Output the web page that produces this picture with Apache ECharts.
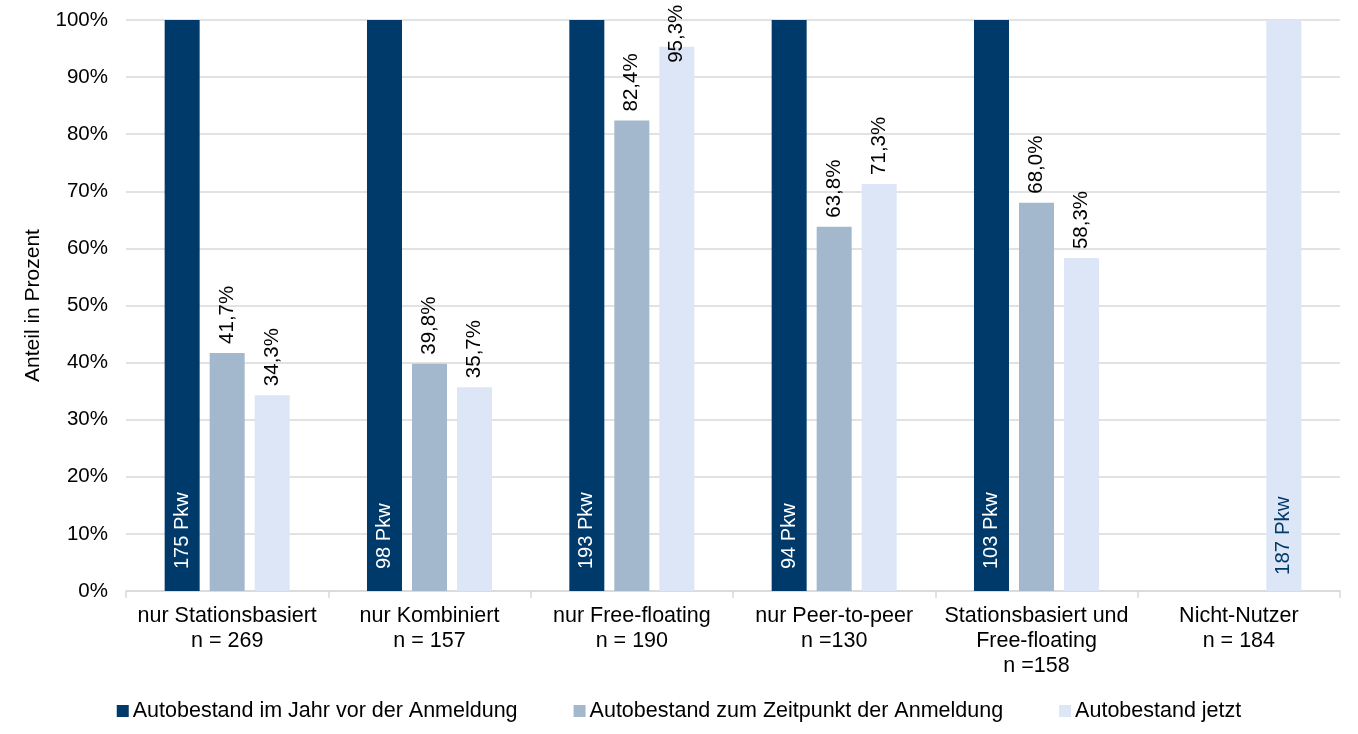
<!DOCTYPE html>
<html>
<head>
<meta charset="utf-8">
<script src="https://cdn.jsdelivr.net/npm/echarts@6/dist/echarts.min.js"></script>
<style>html,body{margin:0;padding:0;background:#fff}#c{width:1358px;height:734px}</style>
</head>
<body>
<div id="c"></div>
<script>
var categories = ['nur Stationsbasiert\nn = 269', 'nur Kombiniert\nn = 157', 'nur Free-floating\nn = 190', 'nur Peer-to-peer\nn =130', 'Stationsbasiert und\nFree-floating\nn =158', 'Nicht-Nutzer\nn = 184'];
var seriesNames = ['Autobestand im Jahr vor der Anmeldung', 'Autobestand zum Zeitpunkt der Anmeldung', 'Autobestand jetzt'];
var vorJahr = [100, 100, 100, 100, 100, null];
var anmeldung = [41.7, 39.8, 82.4, 63.8, 68.0, null];
var jetzt = [34.3, 35.7, 95.3, 71.3, 58.3, 100];
var pkwLabels = ['175 Pkw', '98 Pkw', '193 Pkw', '94 Pkw', '103 Pkw', null];
var nichtNutzerPkw = '187 Pkw';
var yTicks = [0, 10, 20, 30, 40, 50, 60, 70, 80, 90, 100];

var FONT = 'Liberation Sans, Arial, sans-serif';
var colors = ['#003A6B', '#A3B8CC', '#DCE6F6'];

function pct(v){ return v.toFixed(1).replace('.', ',') + '%'; }

var topLabel = {
  show: true, position: 'top', rotate: 90, align: 'left', verticalAlign: 'middle',
  distance: 9, fontSize: 20.5, fontFamily: FONT, color: '#000',
  formatter: function(p){ return pct(p.value); }
};

var darkData = vorJahr.map(function(v, i){
  return { value: v, label: { formatter: pkwLabels[i] || '' } };
});
var jetztData = jetzt.map(function(v, i){
  if (i === categories.length - 1) {
    return { value: v, label: { position: 'insideBottom', distance: 16, color: '#003A6B', formatter: nichtNutzerPkw } };
  }
  if (v > 90) {
    return { value: v, label: { distance: -16 } };
  }
  return v;
});

var chart = echarts.init(document.getElementById('c'));
chart.setOption({
  animation: false,
  color: colors,
  textStyle: { fontFamily: FONT },
  grid: { left: 126, right: 18, top: 20, bottom: 143, containLabel: false },
  legend: {
    bottom: 7, left: 'center', itemWidth: 12, itemHeight: 12, itemGap: 56,
    icon: 'rect',
    textStyle: { fontSize: 21.5, fontFamily: FONT, color: '#000', padding: [0, 0, 0, -1] },
    data: seriesNames
  },
  xAxis: {
    type: 'category', data: categories,
    axisLine: { lineStyle: { color: '#D9D9D9', width: 1.5 } },
    axisTick: { show: true, length: 7, lineStyle: { color: '#D9D9D9', width: 1.5 } },
    axisLabel: { fontSize: 21.5, fontFamily: FONT, color: '#000', lineHeight: 25, margin: 13, interval: 0 }
  },
  yAxis: {
    type: 'value', min: 0, max: 100, interval: 10,
    name: 'Anteil in Prozent', nameLocation: 'middle', nameGap: 82, nameRotate: 90,
    nameTextStyle: { fontSize: 21, fontFamily: FONT, color: '#000' },
    axisLine: { show: false }, axisTick: { show: false },
    splitLine: { lineStyle: { color: '#D9D9D9', width: 1.5 } },
    axisLabel: { fontSize: 20.5, fontFamily: FONT, color: '#000', margin: 18,
      formatter: function(v){ return v + '%'; } }
  },
  series: [
    { name: seriesNames[0], type: 'bar', data: darkData, barWidth: 35, barGap: '28.6%',
      label: { show: true, position: 'insideBottom', rotate: 90, align: 'left', verticalAlign: 'middle',
        distance: 22, fontSize: 20, fontFamily: FONT, color: '#fff' } },
    { name: seriesNames[1], type: 'bar', data: anmeldung, barWidth: 35, barGap: '28.6%', label: topLabel },
    { name: seriesNames[2], type: 'bar', data: jetztData, barWidth: 35, barGap: '28.6%', label: topLabel }
  ]
});
</script>
</body>
</html>
